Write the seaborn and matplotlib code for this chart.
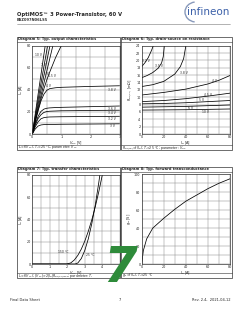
import numpy as np
import pandas as pd
import matplotlib
matplotlib.use("Agg")
import matplotlib.pyplot as plt
import seaborn as sns
from matplotlib.patches import Rectangle, Arc

# ------------------------ #
# Data read from the datasheet page
# ------------------------ #

# Diagram 5: output characteristics, I_D vs V_DS per V_GS
d5_vds = [0, 0.1, 0.2, 0.3, 0.4, 0.5, 0.6, 0.8, 1.0, 1.5, 2.0, 2.5, 3.0]
d5_curves = {
    "10 V": [0, 18, 36, 54, 72, 90, 108, 144, 180, 270, 360, 450, 540],
    "7 V": [0, 15.5, 31, 46, 61, 76, 91, 122, 152, 228, 304, 380, 456],
    "5 V": [0, 13.5, 27, 40, 53, 66, 79, 106, 132, 198, 264, 330, 396],
    "4.5 V": [0, 12, 24, 35, 46, 57, 68, 90, 112, 168, 224, 280, 336],
    "4 V": [0, 11, 22, 32, 41, 49, 56, 69, 80, 100, 120, 140, 160],
    "3.8 V": [0, 11, 21, 30, 36, 39.5, 41, 41.8, 42.2, 42.6, 43, 43.3, 43.6],
    "3.6 V": [0, 9, 16, 20.5, 22.5, 23.3, 23.6, 23.9, 24.1, 24.4, 24.7, 25, 25.3],
    "3.4 V": [0, 8, 14, 17.5, 19.5, 20.3, 20.6, 20.8, 21, 21.1, 21.3, 21.4, 21.5],
    "3.2 V": [0, 6.5, 11, 13.8, 14.8, 15.2, 15.4, 15.5, 15.6, 15.7, 15.8, 15.9, 16],
    "3 V": [0, 4.5, 7.2, 8.2, 8.5, 8.6, 8.7, 8.7, 8.8, 8.9, 9, 9.1, 9.2],
}
d5_label_pos = {
    "10 V": (0.22, 71), "7 V": (0.4, 62), "5 V": (0.5, 54), "4.5 V": (0.68, 52),
    "4 V": (0.55, 43), "3.8 V": (2.75, 40), "3.6 V": (2.75, 23),
    "3.4 V": (2.75, 19), "3.2 V": (2.75, 13.5), "3 V": (2.75, 7.5),
}

# Diagram 6: on-resistance, R_DS(on) vs I_D per V_GS
d6_curves = {
    "3.2 V": ([0, 3, 6, 9, 10.5], [18.3, 19.4, 20.8, 22.8, 24]),
    "3.5 V": ([0, 5, 10, 15, 18, 19.5, 20.5], [15.3, 15.9, 16.7, 17.9, 19.3, 21, 24]),
    "3.8 V": ([0, 10, 20, 30, 35, 38, 40], [12.9, 13.4, 14.3, 16.3, 18.3, 20.5, 24]),
    "4 V": ([0, 20, 40, 60, 70, 80], [10.6, 11.3, 12.2, 13.6, 14.6, 15.9]),
    "4.5 V": ([0, 20, 40, 60, 80], [8.8, 9.1, 9.6, 10.3, 11.1]),
    "5 V": ([0, 20, 40, 60, 80], [8.2, 8.3, 8.5, 8.8, 9.1]),
    "6 V": ([0, 20, 40, 60, 80], [7.3, 7.4, 7.5, 7.7, 7.9]),
    "10 V": ([0, 20, 40, 60, 80], [6.5, 6.55, 6.6, 6.7, 6.8]),
}
d6_label_pos = {
    "3.2 V": (4, 19.8), "3.5 V": (16, 18.5), "3.8 V": (38, 16.5), "4 V": (66, 14.3),
    "4.5 V": (60, 10.6), "5 V": (54, 9.2), "6 V": (44, 7.0), "10 V": (58, 6.0),
}

# Diagram 7: transfer characteristics, I_D vs V_GS per T_j
d7_vgs_25 = [0, 2.45, 2.6, 2.8, 3.0, 3.2, 3.4, 3.6, 3.8, 3.86]
d7_id_25 = [0, 0, 0.9, 4.9, 12.2, 22.6, 36.3, 53.2, 73.3, 80]
d7_vgs_150 = [0, 1.97, 2.2, 2.4, 2.6, 2.8, 3.0, 3.2, 3.4, 3.6, 3.8, 4.0]
d7_id_150 = [0, 0, 1.0, 3.6, 7.7, 13.4, 20.6, 29.4, 39.7, 51.5, 65.0, 80]

# Diagram 8: forward transconductance, g_fs vs I_D
d8_id = [0, 1.5, 4.5, 10, 20, 30, 40, 50, 60, 70, 80]
d8_gfs = [0, 15, 28, 40, 51, 61, 70, 77, 84, 90, 95]

# ------------------------ #
# Page setup
# ------------------------ #
sns.set_style("white")
plt.rcParams["font.family"] = ["DejaVu Sans"]

W, H = 240, 310
fig = plt.figure(figsize=(2.4, 3.1), dpi=100)
fig.patch.set_facecolor("white")


def fx(x):
    return x / W


def fy(y):
    return 1 - y / H


def add_ax(x0, y0, x1, y1):
    return fig.add_axes([fx(x0), fy(y1), fx(x1) - fx(x0), fy(y0) - fy(y1)])


def style_ax(ax, xlim, ylim, xmajor, xminor, ymajor, yminor):
    ax.set_xlim(*xlim)
    ax.set_ylim(*ylim)
    ax.set_xticks(np.arange(xlim[0], xlim[1] + 1e-9, xmajor))
    ax.set_yticks(np.arange(ylim[0], ylim[1] + 1e-9, ymajor))
    ax.set_xticks(np.arange(xlim[0], xlim[1] + 1e-9, xminor), minor=True)
    ax.set_yticks(np.arange(ylim[0], ylim[1] + 1e-9, yminor), minor=True)
    ax.grid(True, which="both", color="#8a8a8a", lw=0.35)
    ax.tick_params(which="both", length=0, labelsize=2.4, pad=0.9, colors="#222222")
    for s in ax.spines.values():
        s.set_linewidth(0.5)
        s.set_color("#333333")
    ax.set_axisbelow(True)


def panel(x0, y0, x1, y1, title, note):
    fig.add_artist(Rectangle((fx(x0), fy(y1)), fx(x1) - fx(x0), fy(y0) - fy(y1),
                             transform=fig.transFigure, fill=False, lw=0.5, ec="#333333"))
    fig.add_artist(plt.Line2D([fx(x0), fx(x1)], [fy(y0 + 4.5)] * 2, lw=0.4, color="#333333"))
    fig.add_artist(plt.Line2D([fx(x0), fx(x1)], [fy(y1 - 5)] * 2, lw=0.4, color="#333333"))
    fig.text(fx(x0 + 1.5), fy(y0 + 2.4), title, fontsize=2.6, weight="bold", va="center")
    fig.text(fx(x0 + 1.5), fy(y1 - 2.4), note, fontsize=2.3, va="center")


# header
fig.text(fx(17), fy(14.5), "OptiMOS\u2122 3 Power-Transistor, 60 V", fontsize=3.8,
         weight="bold", va="center")
fig.text(fx(17), fy(20), "BSZ097N06LS5", fontsize=2.6, weight="bold", va="center",
         color="#333333")
fig.add_artist(plt.Line2D([fx(17), fx(230)], [fy(23.5)] * 2, lw=0.4, color="#777777"))
fig.text(fx(229), fy(12), "infineon", fontsize=7.5, color="#3a5fa8", ha="right",
         va="center")
fig.add_artist(Arc((fx(196), fy(12)), fx(22), fy(0) - fy(20), angle=0, theta1=100,
                   theta2=260, transform=fig.transFigure, lw=1.0, color="#8899bb"))

# footer
fig.text(fx(10), fy(300), "Final Data Sheet", fontsize=2.6, va="center")
fig.text(fx(120), fy(300), "7", fontsize=2.6, va="center", ha="center")
fig.text(fx(230), fy(300), "Rev. 2.4,  2021-04-12", fontsize=2.6, va="center", ha="right")

# panels
panel(16.5, 37, 120, 150, "Diagram 5: Typ. output characteristics",
      "$I_D$=f($V_{DS}$); $T_j$=25 \u00b0C; parameter: $V_{GS}$")
panel(121, 37, 232, 150, "Diagram 6: Typ. drain-source on resistance",
      "$R_{DS(on)}$=f($I_D$); $T_j$=25 \u00b0C; parameter: $V_{GS}$")
panel(16.5, 167, 120, 278, "Diagram 7: Typ. transfer characteristics",
      "$I_D$=f($V_{GS}$); |$V_{DS}$|>2|$I_D$|$R_{DS(on)max}$; parameter: $T_j$")
panel(121, 167, 232, 278, "Diagram 8: Typ. forward transconductance",
      "$g_{fs}$=f($I_D$); $T_j$=25 \u00b0C")

line_kw = dict(color="black", lw=0.55, estimator=None, sort=False, legend=False)
lab_kw = dict(fontsize=2.2, ha="center", va="center")
axlab_kw = dict(fontsize=2.5, labelpad=0.2)

# Diagram 5
ax5 = add_ax(32.3, 45.5, 119.5, 134)
for name, ids in d5_curves.items():
    sns.lineplot(x=d5_vds, y=ids, ax=ax5, **line_kw)
    ax5.text(*d5_label_pos[name], name, **lab_kw)
style_ax(ax5, (0, 3), (0, 80), 1, 0.5, 20, 10)
ax5.set_xlabel("$V_{DS}$ [V]", **axlab_kw)
ax5.set_ylabel("$I_D$ [A]", fontsize=2.5, labelpad=1)

# Diagram 6
ax6 = add_ax(141.7, 45.7, 230, 134)
for name, (ids, rds) in d6_curves.items():
    sns.lineplot(x=ids, y=rds, ax=ax6, **line_kw)
    ax6.text(*d6_label_pos[name], name, **lab_kw)
style_ax(ax6, (0, 80), (0, 24), 20, 10, 2, 2)
ax6.set_xlabel("$I_D$ [A]", **axlab_kw)
ax6.set_ylabel("$R_{DS(on)}$ [m\u03a9]", fontsize=2.5, labelpad=1)

# Diagram 7
ax7 = add_ax(32.3, 175, 119.8, 264)
sns.lineplot(x=d7_vgs_150, y=d7_id_150, ax=ax7, **line_kw)
sns.lineplot(x=d7_vgs_25, y=d7_id_25, ax=ax7, **line_kw)
ax7.text(1.75, 11, "150 \u00b0C", **lab_kw)
ax7.text(3.3, 8, "25 \u00b0C", **lab_kw)
style_ax(ax7, (0, 5), (0, 80), 1, 0.5, 20, 10)
ax7.set_xlabel("$V_{GS}$ [V]", **axlab_kw)
ax7.set_ylabel("$I_D$ [A]", fontsize=2.5, labelpad=1)

# Diagram 8
ax8 = add_ax(141.7, 174.3, 230, 264)
sns.lineplot(x=d8_id, y=d8_gfs, ax=ax8, **line_kw)
style_ax(ax8, (0, 80), (0, 100), 20, 10, 20, 10)
ax8.set_xlabel("$I_D$ [A]", **axlab_kw)
ax8.set_ylabel("$g_{fs}$ [S]", fontsize=2.5, labelpad=1)

# green page-number mark overlay
fig.text(fx(120), fy(268), "7", fontsize=35, weight="bold", color="#2e8b3a",
         ha="center", va="center", style="italic")

fig.savefig("out.png", dpi=100)
